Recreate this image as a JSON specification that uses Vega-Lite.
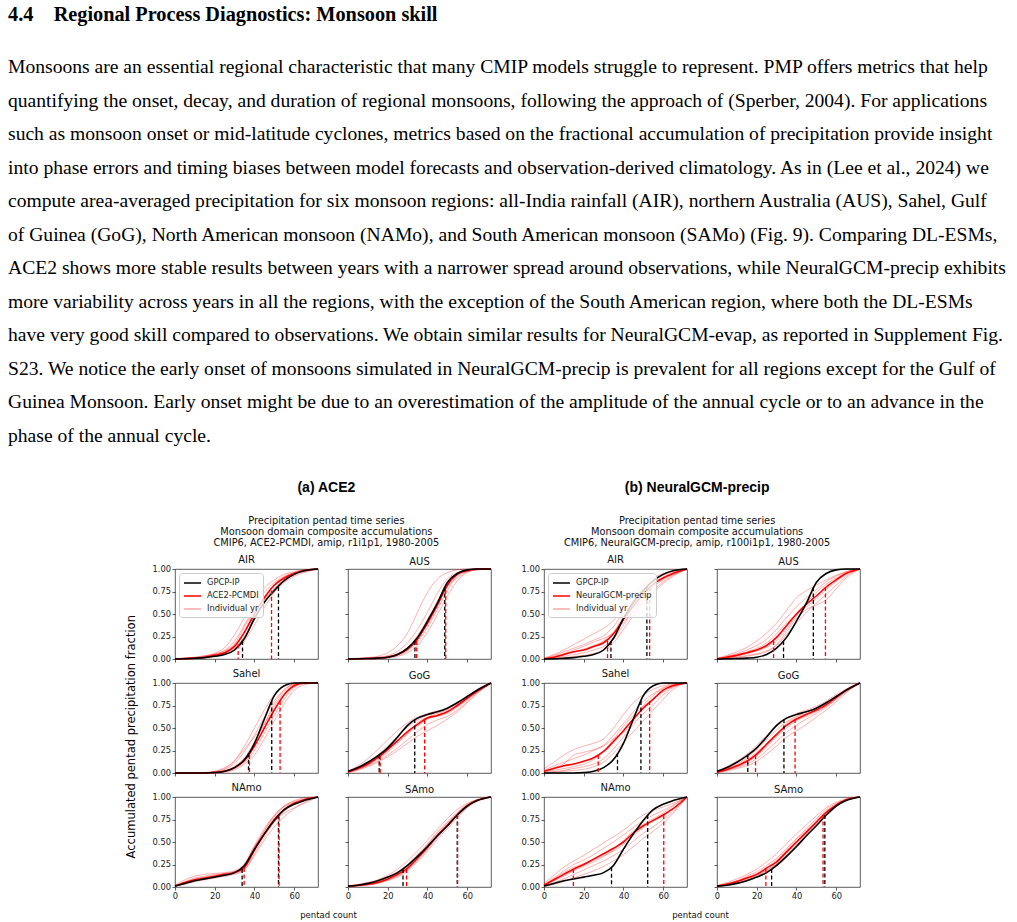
{
"$schema":"https://vega.github.io/schema/vega-lite/v6.json",
"background":"white",
"padding":{"left":8,"top":5,"right":5,"bottom":5},
"title":{"text":"4.4\u2003Regional Process Diagnostics: Monsoon skill","subtitle":[
"Monsoons are an essential regional characteristic that many CMIP models struggle to represent. PMP offers metrics that help",
"quantifying the onset, decay, and duration of regional monsoons, following the approach of (Sperber, 2004). For applications",
"such as monsoon onset or mid-latitude cyclones, metrics based on the fractional accumulation of precipitation provide insight",
"into phase errors and timing biases between model forecasts and observation-derived climatology. As in (Lee et al., 2024) we",
"compute area-averaged precipitation for six monsoon regions: all-India rainfall (AIR), northern Australia (AUS), Sahel, Gulf",
"of Guinea (GoG), North American monsoon (NAMo), and South American monsoon (SAMo) (Fig. 9). Comparing DL-ESMs,",
"ACE2 shows more stable results between years with a narrower spread around observations, while NeuralGCM-precip exhibits",
"more variability across years in all the regions, with the exception of the South American region, where both the DL-ESMs",
"have very good skill compared to observations. We obtain similar results for NeuralGCM-evap, as reported in Supplement Fig.",
"S23. We notice the early onset of monsoons simulated in NeuralGCM-precip is prevalent for all regions except for the Gulf of",
"Guinea Monsoon. Early onset might be due to an overestimation of the amplitude of the annual cycle or to an advance in the",
"phase of the annual cycle."],
"anchor":"start","frame":"group","dx":-167,"font":"Liberation Serif","fontSize":20.3,"fontWeight":"bold","color":"#000000",
"subtitleFont":"Liberation Serif","subtitleFontSize":19.6,"subtitleColor":"#000000","subtitleLineHeight":33.5,"subtitlePadding":32.5,"offset":36},
"spacing":25,
"resolve":{"scale":{"color":"independent"},"legend":{"color":"independent"}},
"config":{
"view":{"stroke":"#333333","strokeWidth":0.8},
"axis":{"grid":false,"domain":false,"tickSize":3,"tickColor":"#333333","tickWidth":0.8,"labelFont":"DejaVu Sans","labelFontSize":8.3,"labelColor":"#222222","labelPadding":1.5,"labelFlush":false,"labelOverlap":false,"titleFont":"DejaVu Sans","titleFontWeight":"normal","titleColor":"#000000"},
"title":{"font":"DejaVu Sans","fontSize":10,"fontWeight":"normal","color":"#111111","offset":-1,"frame":"group","anchor":"middle"},
"line":{"interpolate":"monotone"}
},
"datasets":{
"c":[
{"p":"a","r":"AIR","x":0,"o":0,"m":0,"y1":0.003,"y2":0.002,"y3":0.001,"y4":0,"y5":0,"y6":0.002},
{"p":"a","r":"AIR","x":5,"o":0.003,"m":0.004,"y1":0.009,"y2":0.006,"y3":0.006,"y4":0.003,"y5":0.002,"y6":0.01},
{"p":"a","r":"AIR","x":10,"o":0.008,"m":0.01,"y1":0.018,"y2":0.014,"y3":0.012,"y4":0.008,"y5":0.006,"y6":0.02},
{"p":"a","r":"AIR","x":15,"o":0.015,"m":0.02,"y1":0.036,"y2":0.028,"y3":0.025,"y4":0.017,"y5":0.014,"y6":0.035},
{"p":"a","r":"AIR","x":20,"o":0.03,"m":0.04,"y1":0.064,"y2":0.052,"y3":0.05,"y4":0.034,"y5":0.028,"y6":0.055},
{"p":"a","r":"AIR","x":25,"o":0.05,"m":0.07,"y1":0.126,"y2":0.098,"y3":0.08,"y4":0.06,"y5":0.05,"y6":0.09},
{"p":"a","r":"AIR","x":30,"o":0.1,"m":0.14,"y1":0.27,"y2":0.2,"y3":0.16,"y4":0.12,"y5":0.1,"y6":0.17},
{"p":"a","r":"AIR","x":35,"o":0.23,"m":0.3,"y1":0.46,"y2":0.38,"y3":0.31,"y4":0.25,"y5":0.2,"y6":0.36},
{"p":"a","r":"AIR","x":40,"o":0.45,"m":0.5,"y1":0.64,"y2":0.57,"y3":0.53,"y4":0.44,"y5":0.38,"y6":0.54},
{"p":"a","r":"AIR","x":45,"o":0.63,"m":0.68,"y1":0.79,"y2":0.74,"y3":0.69,"y4":0.63,"y5":0.57,"y6":0.66},
{"p":"a","r":"AIR","x":50,"o":0.76,"m":0.82,"y1":0.88,"y2":0.85,"y3":0.83,"y4":0.78,"y5":0.74,"y6":0.78},
{"p":"a","r":"AIR","x":55,"o":0.87,"m":0.9,"y1":0.94,"y2":0.92,"y3":0.91,"y4":0.88,"y5":0.85,"y6":0.88},
{"p":"a","r":"AIR","x":60,"o":0.94,"m":0.95,"y1":0.97,"y2":0.96,"y3":0.96,"y4":0.94,"y5":0.92,"y6":0.95},
{"p":"a","r":"AIR","x":65,"o":0.98,"m":0.98,"y1":0.99,"y2":0.99,"y3":0.98,"y4":0.97,"y5":0.96,"y6":0.985},
{"p":"a","r":"AIR","x":72,"o":1,"m":1,"y1":1,"y2":1,"y3":1,"y4":1,"y5":1,"y6":1},
{"p":"a","r":"AUS","x":0,"o":0,"m":0,"y1":0.004,"y2":0.001,"y3":0,"y4":0,"y5":0,"y6":0},
{"p":"a","r":"AUS","x":5,"o":0.002,"m":0.002,"y1":0.008,"y2":0.004,"y3":0.003,"y4":0.001,"y5":0.001,"y6":0.003},
{"p":"a","r":"AUS","x":10,"o":0.005,"m":0.005,"y1":0.016,"y2":0.008,"y3":0.006,"y4":0.004,"y5":0.003,"y6":0.01},
{"p":"a","r":"AUS","x":15,"o":0.01,"m":0.01,"y1":0.03,"y2":0.016,"y3":0.012,"y4":0.008,"y5":0.007,"y6":0.02},
{"p":"a","r":"AUS","x":20,"o":0.02,"m":0.02,"y1":0.07,"y2":0.038,"y3":0.026,"y4":0.015,"y5":0.012,"y6":0.03},
{"p":"a","r":"AUS","x":25,"o":0.05,"m":0.05,"y1":0.15,"y2":0.086,"y3":0.06,"y4":0.04,"y5":0.03,"y6":0.06},
{"p":"a","r":"AUS","x":30,"o":0.12,"m":0.11,"y1":0.29,"y2":0.18,"y3":0.13,"y4":0.09,"y5":0.07,"y6":0.1},
{"p":"a","r":"AUS","x":35,"o":0.24,"m":0.22,"y1":0.52,"y2":0.33,"y3":0.26,"y4":0.19,"y5":0.15,"y6":0.24},
{"p":"a","r":"AUS","x":40,"o":0.42,"m":0.4,"y1":0.74,"y2":0.52,"y3":0.44,"y4":0.35,"y5":0.3,"y6":0.38},
{"p":"a","r":"AUS","x":45,"o":0.62,"m":0.6,"y1":0.89,"y2":0.73,"y3":0.64,"y4":0.55,"y5":0.49,"y6":0.58},
{"p":"a","r":"AUS","x":50,"o":0.85,"m":0.82,"y1":0.96,"y2":0.89,"y3":0.84,"y4":0.76,"y5":0.7,"y6":0.8},
{"p":"a","r":"AUS","x":55,"o":0.95,"m":0.94,"y1":0.99,"y2":0.96,"y3":0.95,"y4":0.92,"y5":0.87,"y6":0.9},
{"p":"a","r":"AUS","x":60,"o":0.99,"m":0.98,"y1":1,"y2":0.99,"y3":0.985,"y4":0.97,"y5":0.96,"y6":0.97},
{"p":"a","r":"AUS","x":65,"o":1,"m":1,"y1":1,"y2":1,"y3":1,"y4":0.99,"y5":0.99,"y6":0.995},
{"p":"a","r":"AUS","x":72,"o":1,"m":1,"y1":1,"y2":1,"y3":1,"y4":1,"y5":1,"y6":1},
{"p":"a","r":"Sahel","x":0,"o":0,"m":0,"y1":0,"y2":0,"y3":0,"y4":0,"y5":0,"y6":0},
{"p":"a","r":"Sahel","x":5,"o":0,"m":0,"y1":0,"y2":0,"y3":0,"y4":0,"y5":0,"y6":0},
{"p":"a","r":"Sahel","x":10,"o":0,"m":0,"y1":0.001,"y2":0.001,"y3":0,"y4":0,"y5":0,"y6":0},
{"p":"a","r":"Sahel","x":15,"o":0,"m":0.001,"y1":0.005,"y2":0.003,"y3":0.002,"y4":0.001,"y5":0,"y6":0.004},
{"p":"a","r":"Sahel","x":20,"o":0.005,"m":0.005,"y1":0.02,"y2":0.011,"y3":0.008,"y4":0.003,"y5":0.002,"y6":0.015},
{"p":"a","r":"Sahel","x":25,"o":0.02,"m":0.02,"y1":0.06,"y2":0.04,"y3":0.028,"y4":0.014,"y5":0.01,"y6":0.05},
{"p":"a","r":"Sahel","x":30,"o":0.06,"m":0.06,"y1":0.14,"y2":0.11,"y3":0.075,"y4":0.048,"y5":0.036,"y6":0.13},
{"p":"a","r":"Sahel","x":35,"o":0.15,"m":0.14,"y1":0.3,"y2":0.24,"y3":0.17,"y4":0.12,"y5":0.1,"y6":0.27},
{"p":"a","r":"Sahel","x":40,"o":0.33,"m":0.3,"y1":0.5,"y2":0.42,"y3":0.34,"y4":0.25,"y5":0.2,"y6":0.4},
{"p":"a","r":"Sahel","x":45,"o":0.6,"m":0.5,"y1":0.7,"y2":0.62,"y3":0.54,"y4":0.44,"y5":0.38,"y6":0.55},
{"p":"a","r":"Sahel","x":50,"o":0.86,"m":0.7,"y1":0.87,"y2":0.8,"y3":0.74,"y4":0.64,"y5":0.58,"y6":0.77},
{"p":"a","r":"Sahel","x":55,"o":0.97,"m":0.87,"y1":0.97,"y2":0.93,"y3":0.9,"y4":0.82,"y5":0.77,"y6":0.92},
{"p":"a","r":"Sahel","x":60,"o":1,"m":0.97,"y1":1,"y2":0.99,"y3":0.98,"y4":0.95,"y5":0.92,"y6":0.99},
{"p":"a","r":"Sahel","x":65,"o":1,"m":1,"y1":1,"y2":1,"y3":1,"y4":0.99,"y5":0.98,"y6":1},
{"p":"a","r":"Sahel","x":72,"o":1,"m":1,"y1":1,"y2":1,"y3":1,"y4":1,"y5":1,"y6":1},
{"p":"a","r":"GoG","x":0,"o":0.02,"m":0.01,"y1":0.02,"y2":0.015,"y3":0.01,"y4":0.01,"y5":0.005,"y6":0.01},
{"p":"a","r":"GoG","x":5,"o":0.06,"m":0.05,"y1":0.08,"y2":0.06,"y3":0.04,"y4":0.04,"y5":0.03,"y6":0.05},
{"p":"a","r":"GoG","x":10,"o":0.12,"m":0.1,"y1":0.16,"y2":0.12,"y3":0.09,"y4":0.08,"y5":0.07,"y6":0.11},
{"p":"a","r":"GoG","x":15,"o":0.19,"m":0.17,"y1":0.26,"y2":0.2,"y3":0.15,"y4":0.13,"y5":0.12,"y6":0.18},
{"p":"a","r":"GoG","x":20,"o":0.28,"m":0.26,"y1":0.37,"y2":0.3,"y3":0.23,"y4":0.2,"y5":0.18,"y6":0.27},
{"p":"a","r":"GoG","x":25,"o":0.4,"m":0.36,"y1":0.47,"y2":0.41,"y3":0.33,"y4":0.28,"y5":0.25,"y6":0.35},
{"p":"a","r":"GoG","x":30,"o":0.53,"m":0.46,"y1":0.56,"y2":0.51,"y3":0.43,"y4":0.37,"y5":0.33,"y6":0.44},
{"p":"a","r":"GoG","x":35,"o":0.61,"m":0.54,"y1":0.62,"y2":0.59,"y3":0.52,"y4":0.46,"y5":0.41,"y6":0.56},
{"p":"a","r":"GoG","x":40,"o":0.65,"m":0.61,"y1":0.66,"y2":0.64,"y3":0.6,"y4":0.54,"y5":0.47,"y6":0.62},
{"p":"a","r":"GoG","x":45,"o":0.68,"m":0.64,"y1":0.69,"y2":0.67,"y3":0.63,"y4":0.59,"y5":0.53,"y6":0.66},
{"p":"a","r":"GoG","x":50,"o":0.72,"m":0.68,"y1":0.72,"y2":0.71,"y3":0.66,"y4":0.63,"y5":0.6,"y6":0.7},
{"p":"a","r":"GoG","x":55,"o":0.78,"m":0.75,"y1":0.78,"y2":0.77,"y3":0.73,"y4":0.7,"y5":0.68,"y6":0.76},
{"p":"a","r":"GoG","x":60,"o":0.85,"m":0.83,"y1":0.85,"y2":0.85,"y3":0.81,"y4":0.79,"y5":0.78,"y6":0.83},
{"p":"a","r":"GoG","x":65,"o":0.92,"m":0.91,"y1":0.92,"y2":0.93,"y3":0.9,"y4":0.89,"y5":0.88,"y6":0.9},
{"p":"a","r":"GoG","x":72,"o":1,"m":1,"y1":1,"y2":1,"y3":1,"y4":1,"y5":1,"y6":1},
{"p":"a","r":"NAmo","x":0,"o":0.01,"m":0.01,"y1":0.02,"y2":0.015,"y3":0.01,"y4":0.01,"y5":0.005,"y6":0.01},
{"p":"a","r":"NAmo","x":5,"o":0.04,"m":0.05,"y1":0.08,"y2":0.06,"y3":0.04,"y4":0.03,"y5":0.04,"y6":0.05},
{"p":"a","r":"NAmo","x":10,"o":0.07,"m":0.08,"y1":0.12,"y2":0.1,"y3":0.07,"y4":0.06,"y5":0.07,"y6":0.09},
{"p":"a","r":"NAmo","x":15,"o":0.09,"m":0.1,"y1":0.14,"y2":0.12,"y3":0.09,"y4":0.08,"y5":0.09,"y6":0.11},
{"p":"a","r":"NAmo","x":20,"o":0.11,"m":0.12,"y1":0.15,"y2":0.14,"y3":0.11,"y4":0.1,"y5":0.11,"y6":0.13},
{"p":"a","r":"NAmo","x":25,"o":0.13,"m":0.14,"y1":0.16,"y2":0.15,"y3":0.13,"y4":0.12,"y5":0.13,"y6":0.15},
{"p":"a","r":"NAmo","x":30,"o":0.16,"m":0.16,"y1":0.18,"y2":0.17,"y3":0.15,"y4":0.14,"y5":0.16,"y6":0.17},
{"p":"a","r":"NAmo","x":35,"o":0.24,"m":0.22,"y1":0.26,"y2":0.24,"y3":0.2,"y4":0.19,"y5":0.25,"y6":0.22},
{"p":"a","r":"NAmo","x":40,"o":0.42,"m":0.41,"y1":0.46,"y2":0.44,"y3":0.37,"y4":0.35,"y5":0.45,"y6":0.43},
{"p":"a","r":"NAmo","x":45,"o":0.59,"m":0.59,"y1":0.65,"y2":0.62,"y3":0.56,"y4":0.52,"y5":0.6,"y6":0.63},
{"p":"a","r":"NAmo","x":50,"o":0.74,"m":0.75,"y1":0.8,"y2":0.78,"y3":0.72,"y4":0.67,"y5":0.73,"y6":0.79},
{"p":"a","r":"NAmo","x":55,"o":0.86,"m":0.86,"y1":0.9,"y2":0.89,"y3":0.84,"y4":0.78,"y5":0.82,"y6":0.9},
{"p":"a","r":"NAmo","x":60,"o":0.92,"m":0.93,"y1":0.95,"y2":0.94,"y3":0.92,"y4":0.87,"y5":0.88,"y6":0.96},
{"p":"a","r":"NAmo","x":65,"o":0.96,"m":0.97,"y1":0.98,"y2":0.97,"y3":0.97,"y4":0.94,"y5":0.93,"y6":0.99},
{"p":"a","r":"NAmo","x":72,"o":1,"m":1,"y1":1,"y2":1,"y3":1,"y4":1,"y5":1,"y6":1},
{"p":"a","r":"SAmo","x":0,"o":0.01,"m":0.01,"y1":0.01,"y2":0.01,"y3":0.005,"y4":0.005,"y5":0.01,"y6":0.005},
{"p":"a","r":"SAmo","x":5,"o":0.02,"m":0.02,"y1":0.03,"y2":0.02,"y3":0.015,"y4":0.01,"y5":0.02,"y6":0.015},
{"p":"a","r":"SAmo","x":10,"o":0.04,"m":0.03,"y1":0.05,"y2":0.04,"y3":0.03,"y4":0.02,"y5":0.03,"y6":0.025},
{"p":"a","r":"SAmo","x":15,"o":0.07,"m":0.05,"y1":0.08,"y2":0.06,"y3":0.05,"y4":0.04,"y5":0.05,"y6":0.045},
{"p":"a","r":"SAmo","x":20,"o":0.11,"m":0.09,"y1":0.13,"y2":0.11,"y3":0.08,"y4":0.07,"y5":0.09,"y6":0.08},
{"p":"a","r":"SAmo","x":25,"o":0.16,"m":0.14,"y1":0.2,"y2":0.17,"y3":0.13,"y4":0.11,"y5":0.15,"y6":0.12},
{"p":"a","r":"SAmo","x":30,"o":0.24,"m":0.21,"y1":0.29,"y2":0.25,"y3":0.2,"y4":0.18,"y5":0.23,"y6":0.19},
{"p":"a","r":"SAmo","x":35,"o":0.34,"m":0.32,"y1":0.4,"y2":0.36,"y3":0.3,"y4":0.28,"y5":0.34,"y6":0.31},
{"p":"a","r":"SAmo","x":40,"o":0.45,"m":0.44,"y1":0.52,"y2":0.48,"y3":0.42,"y4":0.4,"y5":0.47,"y6":0.45},
{"p":"a","r":"SAmo","x":45,"o":0.57,"m":0.57,"y1":0.64,"y2":0.61,"y3":0.55,"y4":0.53,"y5":0.6,"y6":0.58},
{"p":"a","r":"SAmo","x":50,"o":0.68,"m":0.68,"y1":0.76,"y2":0.72,"y3":0.67,"y4":0.65,"y5":0.71,"y6":0.7},
{"p":"a","r":"SAmo","x":55,"o":0.8,"m":0.8,"y1":0.86,"y2":0.83,"y3":0.79,"y4":0.77,"y5":0.81,"y6":0.82},
{"p":"a","r":"SAmo","x":60,"o":0.9,"m":0.9,"y1":0.93,"y2":0.92,"y3":0.89,"y4":0.88,"y5":0.9,"y6":0.91},
{"p":"a","r":"SAmo","x":65,"o":0.96,"m":0.96,"y1":0.97,"y2":0.97,"y3":0.96,"y4":0.95,"y5":0.96,"y6":0.97},
{"p":"a","r":"SAmo","x":72,"o":1,"m":1,"y1":1,"y2":1,"y3":1,"y4":1,"y5":1,"y6":1},
{"p":"b","r":"AIR","x":0,"o":0,"m":0,"y1":0.01,"y2":0.005,"y3":0.003,"y4":0,"y5":0,"y6":0.005},
{"p":"b","r":"AIR","x":5,"o":0.003,"m":0.02,"y1":0.05,"y2":0.04,"y3":0.02,"y4":0.01,"y5":0.005,"y6":0.03},
{"p":"b","r":"AIR","x":10,"o":0.008,"m":0.05,"y1":0.1,"y2":0.08,"y3":0.05,"y4":0.03,"y5":0.015,"y6":0.06},
{"p":"b","r":"AIR","x":15,"o":0.015,"m":0.08,"y1":0.16,"y2":0.12,"y3":0.08,"y4":0.05,"y5":0.03,"y6":0.1},
{"p":"b","r":"AIR","x":20,"o":0.03,"m":0.1,"y1":0.22,"y2":0.16,"y3":0.11,"y4":0.07,"y5":0.04,"y6":0.14},
{"p":"b","r":"AIR","x":25,"o":0.05,"m":0.14,"y1":0.28,"y2":0.21,"y3":0.15,"y4":0.1,"y5":0.06,"y6":0.19},
{"p":"b","r":"AIR","x":30,"o":0.1,"m":0.18,"y1":0.34,"y2":0.26,"y3":0.2,"y4":0.14,"y5":0.1,"y6":0.23},
{"p":"b","r":"AIR","x":35,"o":0.23,"m":0.28,"y1":0.43,"y2":0.36,"y3":0.3,"y4":0.22,"y5":0.18,"y6":0.29},
{"p":"b","r":"AIR","x":40,"o":0.45,"m":0.44,"y1":0.58,"y2":0.52,"y3":0.47,"y4":0.38,"y5":0.33,"y6":0.41},
{"p":"b","r":"AIR","x":45,"o":0.63,"m":0.59,"y1":0.72,"y2":0.66,"y3":0.62,"y4":0.54,"y5":0.48,"y6":0.52},
{"p":"b","r":"AIR","x":50,"o":0.76,"m":0.72,"y1":0.83,"y2":0.78,"y3":0.75,"y4":0.68,"y5":0.62,"y6":0.64},
{"p":"b","r":"AIR","x":55,"o":0.87,"m":0.83,"y1":0.9,"y2":0.87,"y3":0.85,"y4":0.8,"y5":0.74,"y6":0.76},
{"p":"b","r":"AIR","x":60,"o":0.94,"m":0.9,"y1":0.95,"y2":0.93,"y3":0.91,"y4":0.88,"y5":0.84,"y6":0.86},
{"p":"b","r":"AIR","x":65,"o":0.98,"m":0.95,"y1":0.98,"y2":0.97,"y3":0.96,"y4":0.94,"y5":0.92,"y6":0.93},
{"p":"b","r":"AIR","x":72,"o":1,"m":1,"y1":1,"y2":1,"y3":1,"y4":1,"y5":1,"y6":1},
{"p":"b","r":"AUS","x":0,"o":0,"m":0,"y1":0.01,"y2":0.005,"y3":0,"y4":0,"y5":0,"y6":0.005},
{"p":"b","r":"AUS","x":5,"o":0.002,"m":0.02,"y1":0.04,"y2":0.03,"y3":0.015,"y4":0.01,"y5":0.005,"y6":0.025},
{"p":"b","r":"AUS","x":10,"o":0.005,"m":0.04,"y1":0.08,"y2":0.06,"y3":0.035,"y4":0.02,"y5":0.015,"y6":0.05},
{"p":"b","r":"AUS","x":15,"o":0.01,"m":0.07,"y1":0.13,"y2":0.1,"y3":0.06,"y4":0.04,"y5":0.03,"y6":0.08},
{"p":"b","r":"AUS","x":20,"o":0.02,"m":0.1,"y1":0.2,"y2":0.15,"y3":0.09,"y4":0.06,"y5":0.05,"y6":0.12},
{"p":"b","r":"AUS","x":25,"o":0.05,"m":0.15,"y1":0.29,"y2":0.22,"y3":0.13,"y4":0.09,"y5":0.08,"y6":0.18},
{"p":"b","r":"AUS","x":30,"o":0.12,"m":0.24,"y1":0.4,"y2":0.33,"y3":0.2,"y4":0.15,"y5":0.16,"y6":0.28},
{"p":"b","r":"AUS","x":35,"o":0.24,"m":0.37,"y1":0.54,"y2":0.46,"y3":0.33,"y4":0.27,"y5":0.3,"y6":0.4},
{"p":"b","r":"AUS","x":40,"o":0.42,"m":0.5,"y1":0.68,"y2":0.58,"y3":0.48,"y4":0.4,"y5":0.45,"y6":0.5},
{"p":"b","r":"AUS","x":45,"o":0.62,"m":0.61,"y1":0.76,"y2":0.68,"y3":0.62,"y4":0.52,"y5":0.55,"y6":0.58},
{"p":"b","r":"AUS","x":50,"o":0.85,"m":0.7,"y1":0.82,"y2":0.77,"y3":0.74,"y4":0.62,"y5":0.6,"y6":0.67},
{"p":"b","r":"AUS","x":55,"o":0.95,"m":0.8,"y1":0.88,"y2":0.86,"y3":0.83,"y4":0.72,"y5":0.66,"y6":0.77},
{"p":"b","r":"AUS","x":60,"o":0.99,"m":0.88,"y1":0.93,"y2":0.92,"y3":0.9,"y4":0.82,"y5":0.78,"y6":0.86},
{"p":"b","r":"AUS","x":65,"o":1,"m":0.95,"y1":0.97,"y2":0.97,"y3":0.96,"y4":0.92,"y5":0.9,"y6":0.94},
{"p":"b","r":"AUS","x":72,"o":1,"m":1,"y1":1,"y2":1,"y3":1,"y4":1,"y5":1,"y6":1},
{"p":"b","r":"Sahel","x":0,"o":0,"m":0.02,"y1":0.05,"y2":0.03,"y3":0.01,"y4":0.005,"y5":0,"y6":0.02},
{"p":"b","r":"Sahel","x":5,"o":0,"m":0.05,"y1":0.12,"y2":0.08,"y3":0.03,"y4":0.015,"y5":0.01,"y6":0.06},
{"p":"b","r":"Sahel","x":10,"o":0,"m":0.08,"y1":0.2,"y2":0.12,"y3":0.05,"y4":0.03,"y5":0.02,"y6":0.1},
{"p":"b","r":"Sahel","x":15,"o":0,"m":0.1,"y1":0.26,"y2":0.16,"y3":0.07,"y4":0.05,"y5":0.03,"y6":0.2},
{"p":"b","r":"Sahel","x":20,"o":0.005,"m":0.13,"y1":0.3,"y2":0.2,"y3":0.1,"y4":0.07,"y5":0.04,"y6":0.23},
{"p":"b","r":"Sahel","x":25,"o":0.02,"m":0.17,"y1":0.33,"y2":0.25,"y3":0.15,"y4":0.1,"y5":0.07,"y6":0.26},
{"p":"b","r":"Sahel","x":30,"o":0.06,"m":0.24,"y1":0.38,"y2":0.31,"y3":0.24,"y4":0.16,"y5":0.12,"y6":0.3},
{"p":"b","r":"Sahel","x":35,"o":0.15,"m":0.35,"y1":0.5,"y2":0.42,"y3":0.37,"y4":0.27,"y5":0.22,"y6":0.38},
{"p":"b","r":"Sahel","x":40,"o":0.33,"m":0.47,"y1":0.65,"y2":0.55,"y3":0.52,"y4":0.4,"y5":0.34,"y6":0.45},
{"p":"b","r":"Sahel","x":45,"o":0.6,"m":0.6,"y1":0.78,"y2":0.68,"y3":0.64,"y4":0.54,"y5":0.46,"y6":0.57},
{"p":"b","r":"Sahel","x":50,"o":0.86,"m":0.72,"y1":0.87,"y2":0.8,"y3":0.74,"y4":0.66,"y5":0.58,"y6":0.75},
{"p":"b","r":"Sahel","x":55,"o":0.97,"m":0.82,"y1":0.93,"y2":0.88,"y3":0.82,"y4":0.76,"y5":0.7,"y6":0.86},
{"p":"b","r":"Sahel","x":60,"o":1,"m":0.92,"y1":0.97,"y2":0.95,"y3":0.9,"y4":0.87,"y5":0.82,"y6":0.94},
{"p":"b","r":"Sahel","x":65,"o":1,"m":0.97,"y1":0.99,"y2":0.98,"y3":0.96,"y4":0.95,"y5":0.93,"y6":0.98},
{"p":"b","r":"Sahel","x":72,"o":1,"m":1,"y1":1,"y2":1,"y3":1,"y4":1,"y5":1,"y6":1},
{"p":"b","r":"GoG","x":0,"o":0.02,"m":0.01,"y1":0.02,"y2":0.015,"y3":0.01,"y4":0.005,"y5":0.005,"y6":0.01},
{"p":"b","r":"GoG","x":5,"o":0.06,"m":0.04,"y1":0.07,"y2":0.05,"y3":0.035,"y4":0.03,"y5":0.02,"y6":0.04},
{"p":"b","r":"GoG","x":10,"o":0.12,"m":0.08,"y1":0.13,"y2":0.1,"y3":0.07,"y4":0.06,"y5":0.05,"y6":0.09},
{"p":"b","r":"GoG","x":15,"o":0.19,"m":0.13,"y1":0.21,"y2":0.17,"y3":0.12,"y4":0.1,"y5":0.08,"y6":0.15},
{"p":"b","r":"GoG","x":20,"o":0.28,"m":0.21,"y1":0.31,"y2":0.26,"y3":0.19,"y4":0.16,"y5":0.13,"y6":0.23},
{"p":"b","r":"GoG","x":25,"o":0.4,"m":0.32,"y1":0.42,"y2":0.37,"y3":0.29,"y4":0.25,"y5":0.21,"y6":0.33},
{"p":"b","r":"GoG","x":30,"o":0.53,"m":0.43,"y1":0.52,"y2":0.48,"y3":0.4,"y4":0.35,"y5":0.3,"y6":0.42},
{"p":"b","r":"GoG","x":35,"o":0.61,"m":0.53,"y1":0.6,"y2":0.57,"y3":0.5,"y4":0.45,"y5":0.4,"y6":0.55},
{"p":"b","r":"GoG","x":40,"o":0.65,"m":0.6,"y1":0.66,"y2":0.63,"y3":0.58,"y4":0.53,"y5":0.47,"y6":0.62},
{"p":"b","r":"GoG","x":45,"o":0.68,"m":0.65,"y1":0.7,"y2":0.68,"y3":0.63,"y4":0.6,"y5":0.54,"y6":0.66},
{"p":"b","r":"GoG","x":50,"o":0.72,"m":0.7,"y1":0.74,"y2":0.72,"y3":0.68,"y4":0.66,"y5":0.62,"y6":0.69},
{"p":"b","r":"GoG","x":55,"o":0.78,"m":0.76,"y1":0.8,"y2":0.78,"y3":0.75,"y4":0.73,"y5":0.7,"y6":0.74},
{"p":"b","r":"GoG","x":60,"o":0.85,"m":0.84,"y1":0.87,"y2":0.85,"y3":0.83,"y4":0.82,"y5":0.79,"y6":0.82},
{"p":"b","r":"GoG","x":65,"o":0.92,"m":0.92,"y1":0.93,"y2":0.93,"y3":0.91,"y4":0.91,"y5":0.89,"y6":0.9},
{"p":"b","r":"GoG","x":72,"o":1,"m":1,"y1":1,"y2":1,"y3":1,"y4":1,"y5":1,"y6":1},
{"p":"b","r":"NAmo","x":0,"o":0.01,"m":0.02,"y1":0.04,"y2":0.03,"y3":0.02,"y4":0.01,"y5":0.005,"y6":0.02},
{"p":"b","r":"NAmo","x":5,"o":0.04,"m":0.08,"y1":0.13,"y2":0.1,"y3":0.07,"y4":0.05,"y5":0.03,"y6":0.09},
{"p":"b","r":"NAmo","x":10,"o":0.07,"m":0.14,"y1":0.22,"y2":0.18,"y3":0.12,"y4":0.09,"y5":0.06,"y6":0.16},
{"p":"b","r":"NAmo","x":15,"o":0.09,"m":0.2,"y1":0.29,"y2":0.25,"y3":0.18,"y4":0.14,"y5":0.1,"y6":0.22},
{"p":"b","r":"NAmo","x":20,"o":0.11,"m":0.25,"y1":0.35,"y2":0.3,"y3":0.23,"y4":0.19,"y5":0.14,"y6":0.26},
{"p":"b","r":"NAmo","x":25,"o":0.13,"m":0.31,"y1":0.42,"y2":0.36,"y3":0.28,"y4":0.24,"y5":0.18,"y6":0.3},
{"p":"b","r":"NAmo","x":30,"o":0.16,"m":0.37,"y1":0.49,"y2":0.43,"y3":0.34,"y4":0.29,"y5":0.23,"y6":0.35},
{"p":"b","r":"NAmo","x":35,"o":0.24,"m":0.43,"y1":0.56,"y2":0.5,"y3":0.4,"y4":0.35,"y5":0.29,"y6":0.41},
{"p":"b","r":"NAmo","x":40,"o":0.42,"m":0.5,"y1":0.63,"y2":0.58,"y3":0.47,"y4":0.42,"y5":0.36,"y6":0.52},
{"p":"b","r":"NAmo","x":45,"o":0.59,"m":0.6,"y1":0.72,"y2":0.66,"y3":0.57,"y4":0.51,"y5":0.45,"y6":0.62},
{"p":"b","r":"NAmo","x":50,"o":0.74,"m":0.68,"y1":0.8,"y2":0.74,"y3":0.66,"y4":0.6,"y5":0.54,"y6":0.7},
{"p":"b","r":"NAmo","x":55,"o":0.86,"m":0.74,"y1":0.85,"y2":0.8,"y3":0.73,"y4":0.67,"y5":0.62,"y6":0.76},
{"p":"b","r":"NAmo","x":60,"o":0.92,"m":0.8,"y1":0.89,"y2":0.85,"y3":0.79,"y4":0.75,"y5":0.71,"y6":0.82},
{"p":"b","r":"NAmo","x":65,"o":0.96,"m":0.87,"y1":0.93,"y2":0.91,"y3":0.87,"y4":0.84,"y5":0.82,"y6":0.9},
{"p":"b","r":"NAmo","x":72,"o":1,"m":1,"y1":1,"y2":1,"y3":1,"y4":1,"y5":1,"y6":1},
{"p":"b","r":"SAmo","x":0,"o":0.01,"m":0.01,"y1":0.015,"y2":0.01,"y3":0.01,"y4":0.005,"y5":0.005,"y6":0.01},
{"p":"b","r":"SAmo","x":5,"o":0.02,"m":0.03,"y1":0.05,"y2":0.04,"y3":0.03,"y4":0.02,"y5":0.02,"y6":0.035},
{"p":"b","r":"SAmo","x":10,"o":0.04,"m":0.06,"y1":0.09,"y2":0.07,"y3":0.05,"y4":0.04,"y5":0.04,"y6":0.065},
{"p":"b","r":"SAmo","x":15,"o":0.07,"m":0.1,"y1":0.14,"y2":0.12,"y3":0.09,"y4":0.07,"y5":0.08,"y6":0.11},
{"p":"b","r":"SAmo","x":20,"o":0.11,"m":0.14,"y1":0.2,"y2":0.17,"y3":0.13,"y4":0.11,"y5":0.12,"y6":0.15},
{"p":"b","r":"SAmo","x":25,"o":0.16,"m":0.21,"y1":0.28,"y2":0.24,"y3":0.19,"y4":0.16,"y5":0.18,"y6":0.22},
{"p":"b","r":"SAmo","x":30,"o":0.24,"m":0.28,"y1":0.37,"y2":0.32,"y3":0.26,"y4":0.23,"y5":0.25,"y6":0.3},
{"p":"b","r":"SAmo","x":35,"o":0.34,"m":0.39,"y1":0.48,"y2":0.43,"y3":0.37,"y4":0.33,"y5":0.35,"y6":0.41},
{"p":"b","r":"SAmo","x":40,"o":0.45,"m":0.5,"y1":0.59,"y2":0.54,"y3":0.48,"y4":0.44,"y5":0.46,"y6":0.53},
{"p":"b","r":"SAmo","x":45,"o":0.57,"m":0.61,"y1":0.69,"y2":0.65,"y3":0.59,"y4":0.56,"y5":0.57,"y6":0.63},
{"p":"b","r":"SAmo","x":50,"o":0.68,"m":0.72,"y1":0.79,"y2":0.76,"y3":0.7,"y4":0.68,"y5":0.68,"y6":0.74},
{"p":"b","r":"SAmo","x":55,"o":0.8,"m":0.83,"y1":0.88,"y2":0.86,"y3":0.81,"y4":0.79,"y5":0.8,"y6":0.84},
{"p":"b","r":"SAmo","x":60,"o":0.9,"m":0.91,"y1":0.94,"y2":0.93,"y3":0.9,"y4":0.89,"y5":0.9,"y6":0.92},
{"p":"b","r":"SAmo","x":65,"o":0.96,"m":0.97,"y1":0.98,"y2":0.97,"y3":0.96,"y4":0.96,"y5":0.96,"y6":0.97},
{"p":"b","r":"SAmo","x":72,"o":1,"m":1,"y1":1,"y2":1,"y3":1,"y4":1,"y5":1,"y6":1}
],
"d":[
{"p":"a","r":"AIR","s":"o","x":34,"y":0.2},{"p":"a","r":"AIR","s":"o","x":52.1,"y":0.8},{"p":"a","r":"AIR","s":"m","x":31.8,"y":0.16},{"p":"a","r":"AIR","s":"m","x":48.6,"y":0.76},
{"p":"a","r":"AUS","s":"o","x":33.7,"y":0.2},{"p":"a","r":"AUS","s":"o","x":48.7,"y":0.8},{"p":"a","r":"AUS","s":"m","x":34.6,"y":0.2},{"p":"a","r":"AUS","s":"m","x":49.2,"y":0.77},
{"p":"a","r":"Sahel","s":"o","x":37,"y":0.22},{"p":"a","r":"Sahel","s":"o","x":48.7,"y":0.8},{"p":"a","r":"Sahel","s":"m","x":37.5,"y":0.2},{"p":"a","r":"Sahel","s":"m","x":52.9,"y":0.8},
{"p":"a","r":"GoG","s":"o","x":15.7,"y":0.2},{"p":"a","r":"GoG","s":"o","x":33.6,"y":0.6},{"p":"a","r":"GoG","s":"m","x":16.2,"y":0.19},{"p":"a","r":"GoG","s":"m","x":38.6,"y":0.59},
{"p":"a","r":"NAmo","s":"o","x":33.8,"y":0.2},{"p":"a","r":"NAmo","s":"o","x":52.1,"y":0.8},{"p":"a","r":"NAmo","s":"m","x":34.8,"y":0.21},{"p":"a","r":"NAmo","s":"m","x":52.4,"y":0.78},
{"p":"a","r":"SAmo","s":"o","x":27.7,"y":0.2},{"p":"a","r":"SAmo","s":"o","x":55,"y":0.8},{"p":"a","r":"SAmo","s":"m","x":29.5,"y":0.2},{"p":"a","r":"SAmo","s":"m","x":55.2,"y":0.8},
{"p":"b","r":"AIR","s":"o","x":33.7,"y":0.2},{"p":"b","r":"AIR","s":"o","x":51.8,"y":0.8},{"p":"b","r":"AIR","s":"m","x":32,"y":0.2},{"p":"b","r":"AIR","s":"m","x":53.2,"y":0.8},
{"p":"b","r":"AUS","s":"o","x":33.5,"y":0.2},{"p":"b","r":"AUS","s":"o","x":48.5,"y":0.8},{"p":"b","r":"AUS","s":"m","x":28.5,"y":0.2},{"p":"b","r":"AUS","s":"m","x":54.6,"y":0.8},
{"p":"b","r":"Sahel","s":"o","x":37,"y":0.22},{"p":"b","r":"Sahel","s":"o","x":48.8,"y":0.8},{"p":"b","r":"Sahel","s":"m","x":27.3,"y":0.2},{"p":"b","r":"Sahel","s":"m","x":53.2,"y":0.8},
{"p":"b","r":"GoG","s":"o","x":15.5,"y":0.2},{"p":"b","r":"GoG","s":"o","x":33.7,"y":0.6},{"p":"b","r":"GoG","s":"m","x":19.4,"y":0.2},{"p":"b","r":"GoG","s":"m","x":39.3,"y":0.6},
{"p":"b","r":"NAmo","s":"o","x":34,"y":0.22},{"p":"b","r":"NAmo","s":"o","x":52.2,"y":0.8},{"p":"b","r":"NAmo","s":"m","x":14.8,"y":0.2},{"p":"b","r":"NAmo","s":"m","x":60.3,"y":0.8},
{"p":"b","r":"SAmo","s":"o","x":27.5,"y":0.2},{"p":"b","r":"SAmo","s":"o","x":54.3,"y":0.8},{"p":"b","r":"SAmo","s":"m","x":24.6,"y":0.2},{"p":"b","r":"SAmo","s":"m","x":53.4,"y":0.8}
]
},
"hconcat":[
{"title":{"text":"(a) ACE2","subtitle":["Precipitation pentad time series","Monsoon domain composite accumulations","CMIP6, ACE2-PCMDI, amip, r1i1p1, 1980-2005"],"anchor":"middle","frame":"bounds","dx":16,"font":"Liberation Sans","fontSize":14,"fontWeight":"bold","color":"#000000","subtitleFont":"DejaVu Sans","subtitleFontSize":9.8,"subtitleColor":"#111111","subtitleLineHeight":11.3,"subtitlePadding":20.5,"offset":6.5},
"resolve":{"scale":{"color":"independent"},"legend":{"color":"independent"}},
"vconcat":[
{"title":{"text":"Accumulated pentad precipitation fraction","orient":"left","anchor":"middle","frame":"bounds","offset":14,"font":"DejaVu Sans","fontSize":11.5,"fontWeight":"normal","color":"#000000"},
"spacing":5,
"resolve":{"scale":{"color":"independent"},"legend":{"color":"independent"}},
"vconcat":[
{"bounds":"flush","spacing":30,"resolve":{"scale":{"color":"independent"},"legend":{"color":"independent"}},"hconcat":[
{"width":143,"height":90,"title":"AIR",
"encoding":{"x":{"field":"x","type":"quantitative","scale":{"domain":[0,72],"nice":false},"axis":{"values":[0,20,40,60],"labels":false},"title":null},
"y":{"field":"y","type":"quantitative","scale":{"domain":[0,1]},"axis":{"values":[0,0.25,0.5,0.75,1],"format":".2f","labels":true},"title":null},
"color":{"field":"s","type":"nominal","scale":{"domain":["o","m","y1","y2","y3","y4","y5","y6"],"range":["#000000","#ff0000","rgba(255,0,0,0.35)","rgba(255,0,0,0.35)","rgba(255,0,0,0.35)","rgba(255,0,0,0.35)","rgba(255,0,0,0.35)","rgba(255,0,0,0.35)"]},
"legend":{"orient":"top-left","offset":4,"title":null,"values":["o","m","y1"],"labelExpr":"datum.value==='o'?'GPCP-IP':datum.value==='m'?'ACE2-PCMDI':'Individual yr'","symbolType":"M-1,0H2.4","symbolSize":100,"symbolStrokeWidth":1.5,"labelOffset":12,"rowPadding":3,"padding":4,"fillColor":"rgba(255,255,255,0.8)","strokeColor":"#cccccc","cornerRadius":3,"labelFont":"DejaVu Sans","labelFontSize":8.3,"labelColor":"#222222"}}},
"layer":[
{"data":{"name":"c"},"transform":[{"filter":"datum.p==='a'&&datum.r==='AIR'"},{"fold":["y1","y2","y3","y4","y5","y6"],"as":["s","y"]}],"mark":{"type":"line","strokeWidth":0.9}},
{"data":{"name":"c"},"transform":[{"filter":"datum.p==='a'&&datum.r==='AIR'"},{"fold":["m"],"as":["s","y"]}],"mark":{"type":"line","strokeWidth":1.6}},
{"data":{"name":"c"},"transform":[{"filter":"datum.p==='a'&&datum.r==='AIR'"},{"fold":["o"],"as":["s","y"]}],"mark":{"type":"line","strokeWidth":1.6}},
{"data":{"name":"d"},"transform":[{"filter":"datum.p==='a'&&datum.r==='AIR'"}],"mark":{"type":"rule","strokeDash":[4,2.5],"strokeWidth":1.3},"encoding":{"y2":{"datum":0}}}]},
{"width":143,"height":90,"title":"AUS",
"encoding":{"x":{"field":"x","type":"quantitative","scale":{"domain":[0,72],"nice":false},"axis":{"values":[0,20,40,60],"labels":false},"title":null},
"y":{"field":"y","type":"quantitative","scale":{"domain":[0,1]},"axis":{"values":[0,0.25,0.5,0.75,1],"format":".2f","labels":false},"title":null},
"color":{"field":"s","type":"nominal","scale":{"domain":["o","m","y1","y2","y3","y4","y5","y6"],"range":["#000000","#ff0000","rgba(255,0,0,0.35)","rgba(255,0,0,0.35)","rgba(255,0,0,0.35)","rgba(255,0,0,0.35)","rgba(255,0,0,0.35)","rgba(255,0,0,0.35)"]},"legend":null}},
"layer":[
{"data":{"name":"c"},"transform":[{"filter":"datum.p==='a'&&datum.r==='AUS'"},{"fold":["y1","y2","y3","y4","y5","y6"],"as":["s","y"]}],"mark":{"type":"line","strokeWidth":0.9}},
{"data":{"name":"c"},"transform":[{"filter":"datum.p==='a'&&datum.r==='AUS'"},{"fold":["m"],"as":["s","y"]}],"mark":{"type":"line","strokeWidth":1.6}},
{"data":{"name":"c"},"transform":[{"filter":"datum.p==='a'&&datum.r==='AUS'"},{"fold":["o"],"as":["s","y"]}],"mark":{"type":"line","strokeWidth":1.6}},
{"data":{"name":"d"},"transform":[{"filter":"datum.p==='a'&&datum.r==='AUS'"}],"mark":{"type":"rule","strokeDash":[4,2.5],"strokeWidth":1.3},"encoding":{"y2":{"datum":0}}}]}
]},
{"bounds":"flush","spacing":30,"resolve":{"scale":{"color":"independent"},"legend":{"color":"independent"}},"hconcat":[
{"width":143,"height":90,"title":"Sahel",
"encoding":{"x":{"field":"x","type":"quantitative","scale":{"domain":[0,72],"nice":false},"axis":{"values":[0,20,40,60],"labels":false},"title":null},
"y":{"field":"y","type":"quantitative","scale":{"domain":[0,1]},"axis":{"values":[0,0.25,0.5,0.75,1],"format":".2f","labels":true},"title":null},
"color":{"field":"s","type":"nominal","scale":{"domain":["o","m","y1","y2","y3","y4","y5","y6"],"range":["#000000","#ff0000","rgba(255,0,0,0.35)","rgba(255,0,0,0.35)","rgba(255,0,0,0.35)","rgba(255,0,0,0.35)","rgba(255,0,0,0.35)","rgba(255,0,0,0.35)"]},"legend":null}},
"layer":[
{"data":{"name":"c"},"transform":[{"filter":"datum.p==='a'&&datum.r==='Sahel'"},{"fold":["y1","y2","y3","y4","y5","y6"],"as":["s","y"]}],"mark":{"type":"line","strokeWidth":0.9}},
{"data":{"name":"c"},"transform":[{"filter":"datum.p==='a'&&datum.r==='Sahel'"},{"fold":["m"],"as":["s","y"]}],"mark":{"type":"line","strokeWidth":1.6}},
{"data":{"name":"c"},"transform":[{"filter":"datum.p==='a'&&datum.r==='Sahel'"},{"fold":["o"],"as":["s","y"]}],"mark":{"type":"line","strokeWidth":1.6}},
{"data":{"name":"d"},"transform":[{"filter":"datum.p==='a'&&datum.r==='Sahel'"}],"mark":{"type":"rule","strokeDash":[4,2.5],"strokeWidth":1.3},"encoding":{"y2":{"datum":0}}}]},
{"width":143,"height":90,"title":"GoG",
"encoding":{"x":{"field":"x","type":"quantitative","scale":{"domain":[0,72],"nice":false},"axis":{"values":[0,20,40,60],"labels":false},"title":null},
"y":{"field":"y","type":"quantitative","scale":{"domain":[0,1]},"axis":{"values":[0,0.25,0.5,0.75,1],"format":".2f","labels":false},"title":null},
"color":{"field":"s","type":"nominal","scale":{"domain":["o","m","y1","y2","y3","y4","y5","y6"],"range":["#000000","#ff0000","rgba(255,0,0,0.35)","rgba(255,0,0,0.35)","rgba(255,0,0,0.35)","rgba(255,0,0,0.35)","rgba(255,0,0,0.35)","rgba(255,0,0,0.35)"]},"legend":null}},
"layer":[
{"data":{"name":"c"},"transform":[{"filter":"datum.p==='a'&&datum.r==='GoG'"},{"fold":["y1","y2","y3","y4","y5","y6"],"as":["s","y"]}],"mark":{"type":"line","strokeWidth":0.9}},
{"data":{"name":"c"},"transform":[{"filter":"datum.p==='a'&&datum.r==='GoG'"},{"fold":["m"],"as":["s","y"]}],"mark":{"type":"line","strokeWidth":1.6}},
{"data":{"name":"c"},"transform":[{"filter":"datum.p==='a'&&datum.r==='GoG'"},{"fold":["o"],"as":["s","y"]}],"mark":{"type":"line","strokeWidth":1.6}},
{"data":{"name":"d"},"transform":[{"filter":"datum.p==='a'&&datum.r==='GoG'"}],"mark":{"type":"rule","strokeDash":[4,2.5],"strokeWidth":1.3},"encoding":{"y2":{"datum":0}}}]}
]},
{"bounds":"flush","spacing":30,"resolve":{"scale":{"color":"independent"},"legend":{"color":"independent"}},"hconcat":[
{"width":143,"height":90,"title":"NAmo",
"encoding":{"x":{"field":"x","type":"quantitative","scale":{"domain":[0,72],"nice":false},"axis":{"values":[0,20,40,60],"labels":true,"titleX":153,"titleY":27,"titleFontSize":8.5,"titleAlign":"center","titleBaseline":"middle","titleColor":"#111111"},"title":"pentad count"},
"y":{"field":"y","type":"quantitative","scale":{"domain":[0,1]},"axis":{"values":[0,0.25,0.5,0.75,1],"format":".2f","labels":true},"title":null},
"color":{"field":"s","type":"nominal","scale":{"domain":["o","m","y1","y2","y3","y4","y5","y6"],"range":["#000000","#ff0000","rgba(255,0,0,0.35)","rgba(255,0,0,0.35)","rgba(255,0,0,0.35)","rgba(255,0,0,0.35)","rgba(255,0,0,0.35)","rgba(255,0,0,0.35)"]},"legend":null}},
"layer":[
{"data":{"name":"c"},"transform":[{"filter":"datum.p==='a'&&datum.r==='NAmo'"},{"fold":["y1","y2","y3","y4","y5","y6"],"as":["s","y"]}],"mark":{"type":"line","strokeWidth":0.9}},
{"data":{"name":"c"},"transform":[{"filter":"datum.p==='a'&&datum.r==='NAmo'"},{"fold":["m"],"as":["s","y"]}],"mark":{"type":"line","strokeWidth":1.6}},
{"data":{"name":"c"},"transform":[{"filter":"datum.p==='a'&&datum.r==='NAmo'"},{"fold":["o"],"as":["s","y"]}],"mark":{"type":"line","strokeWidth":1.6}},
{"data":{"name":"d"},"transform":[{"filter":"datum.p==='a'&&datum.r==='NAmo'"}],"mark":{"type":"rule","strokeDash":[4,2.5],"strokeWidth":1.3},"encoding":{"y2":{"datum":0}}}]},
{"width":143,"height":90,"title":"SAmo",
"encoding":{"x":{"field":"x","type":"quantitative","scale":{"domain":[0,72],"nice":false},"axis":{"values":[0,20,40,60],"labels":true},"title":null},
"y":{"field":"y","type":"quantitative","scale":{"domain":[0,1]},"axis":{"values":[0,0.25,0.5,0.75,1],"format":".2f","labels":false},"title":null},
"color":{"field":"s","type":"nominal","scale":{"domain":["o","m","y1","y2","y3","y4","y5","y6"],"range":["#000000","#ff0000","rgba(255,0,0,0.35)","rgba(255,0,0,0.35)","rgba(255,0,0,0.35)","rgba(255,0,0,0.35)","rgba(255,0,0,0.35)","rgba(255,0,0,0.35)"]},"legend":null}},
"layer":[
{"data":{"name":"c"},"transform":[{"filter":"datum.p==='a'&&datum.r==='SAmo'"},{"fold":["y1","y2","y3","y4","y5","y6"],"as":["s","y"]}],"mark":{"type":"line","strokeWidth":0.9}},
{"data":{"name":"c"},"transform":[{"filter":"datum.p==='a'&&datum.r==='SAmo'"},{"fold":["m"],"as":["s","y"]}],"mark":{"type":"line","strokeWidth":1.6}},
{"data":{"name":"c"},"transform":[{"filter":"datum.p==='a'&&datum.r==='SAmo'"},{"fold":["o"],"as":["s","y"]}],"mark":{"type":"line","strokeWidth":1.6}},
{"data":{"name":"d"},"transform":[{"filter":"datum.p==='a'&&datum.r==='SAmo'"}],"mark":{"type":"rule","strokeDash":[4,2.5],"strokeWidth":1.3},"encoding":{"y2":{"datum":0}}}]}
]}
]}
]},
{"title":{"text":"(b) NeuralGCM-precip","subtitle":["Precipitation pentad time series","Monsoon domain composite accumulations","CMIP6, NeuralGCM-precip, amip, r100i1p1, 1980-2005"],"anchor":"middle","frame":"bounds","dx":5,"font":"Liberation Sans","fontSize":14,"fontWeight":"bold","color":"#000000","subtitleFont":"DejaVu Sans","subtitleFontSize":9.8,"subtitleColor":"#111111","subtitleLineHeight":11.3,"subtitlePadding":20.5,"offset":6.5},
"spacing":5,
"resolve":{"scale":{"color":"independent"},"legend":{"color":"independent"}},
"vconcat":[
{"bounds":"flush","spacing":30,"resolve":{"scale":{"color":"independent"},"legend":{"color":"independent"}},"hconcat":[
{"width":143,"height":90,"title":"AIR",
"encoding":{"x":{"field":"x","type":"quantitative","scale":{"domain":[0,72],"nice":false},"axis":{"values":[0,20,40,60],"labels":false},"title":null},
"y":{"field":"y","type":"quantitative","scale":{"domain":[0,1]},"axis":{"values":[0,0.25,0.5,0.75,1],"format":".2f","labels":true},"title":null},
"color":{"field":"s","type":"nominal","scale":{"domain":["o","m","y1","y2","y3","y4","y5","y6"],"range":["#000000","#ff0000","rgba(255,0,0,0.35)","rgba(255,0,0,0.35)","rgba(255,0,0,0.35)","rgba(255,0,0,0.35)","rgba(255,0,0,0.35)","rgba(255,0,0,0.35)"]},
"legend":{"orient":"top-left","offset":4,"title":null,"values":["o","m","y1"],"labelExpr":"datum.value==='o'?'GPCP-IP':datum.value==='m'?'NeuralGCM-precip':'Individual yr'","symbolType":"M-1,0H2.4","symbolSize":100,"symbolStrokeWidth":1.5,"labelOffset":12,"rowPadding":3,"padding":4,"fillColor":"rgba(255,255,255,0.8)","strokeColor":"#cccccc","cornerRadius":3,"labelFont":"DejaVu Sans","labelFontSize":8.3,"labelColor":"#222222"}}},
"layer":[
{"data":{"name":"c"},"transform":[{"filter":"datum.p==='b'&&datum.r==='AIR'"},{"fold":["y1","y2","y3","y4","y5","y6"],"as":["s","y"]}],"mark":{"type":"line","strokeWidth":0.9}},
{"data":{"name":"c"},"transform":[{"filter":"datum.p==='b'&&datum.r==='AIR'"},{"fold":["m"],"as":["s","y"]}],"mark":{"type":"line","strokeWidth":1.6}},
{"data":{"name":"c"},"transform":[{"filter":"datum.p==='b'&&datum.r==='AIR'"},{"fold":["o"],"as":["s","y"]}],"mark":{"type":"line","strokeWidth":1.6}},
{"data":{"name":"d"},"transform":[{"filter":"datum.p==='b'&&datum.r==='AIR'"}],"mark":{"type":"rule","strokeDash":[4,2.5],"strokeWidth":1.3},"encoding":{"y2":{"datum":0}}}]},
{"width":143,"height":90,"title":"AUS",
"encoding":{"x":{"field":"x","type":"quantitative","scale":{"domain":[0,72],"nice":false},"axis":{"values":[0,20,40,60],"labels":false},"title":null},
"y":{"field":"y","type":"quantitative","scale":{"domain":[0,1]},"axis":{"values":[0,0.25,0.5,0.75,1],"format":".2f","labels":false},"title":null},
"color":{"field":"s","type":"nominal","scale":{"domain":["o","m","y1","y2","y3","y4","y5","y6"],"range":["#000000","#ff0000","rgba(255,0,0,0.35)","rgba(255,0,0,0.35)","rgba(255,0,0,0.35)","rgba(255,0,0,0.35)","rgba(255,0,0,0.35)","rgba(255,0,0,0.35)"]},"legend":null}},
"layer":[
{"data":{"name":"c"},"transform":[{"filter":"datum.p==='b'&&datum.r==='AUS'"},{"fold":["y1","y2","y3","y4","y5","y6"],"as":["s","y"]}],"mark":{"type":"line","strokeWidth":0.9}},
{"data":{"name":"c"},"transform":[{"filter":"datum.p==='b'&&datum.r==='AUS'"},{"fold":["m"],"as":["s","y"]}],"mark":{"type":"line","strokeWidth":1.6}},
{"data":{"name":"c"},"transform":[{"filter":"datum.p==='b'&&datum.r==='AUS'"},{"fold":["o"],"as":["s","y"]}],"mark":{"type":"line","strokeWidth":1.6}},
{"data":{"name":"d"},"transform":[{"filter":"datum.p==='b'&&datum.r==='AUS'"}],"mark":{"type":"rule","strokeDash":[4,2.5],"strokeWidth":1.3},"encoding":{"y2":{"datum":0}}}]}
]},
{"bounds":"flush","spacing":30,"resolve":{"scale":{"color":"independent"},"legend":{"color":"independent"}},"hconcat":[
{"width":143,"height":90,"title":"Sahel",
"encoding":{"x":{"field":"x","type":"quantitative","scale":{"domain":[0,72],"nice":false},"axis":{"values":[0,20,40,60],"labels":false},"title":null},
"y":{"field":"y","type":"quantitative","scale":{"domain":[0,1]},"axis":{"values":[0,0.25,0.5,0.75,1],"format":".2f","labels":true},"title":null},
"color":{"field":"s","type":"nominal","scale":{"domain":["o","m","y1","y2","y3","y4","y5","y6"],"range":["#000000","#ff0000","rgba(255,0,0,0.35)","rgba(255,0,0,0.35)","rgba(255,0,0,0.35)","rgba(255,0,0,0.35)","rgba(255,0,0,0.35)","rgba(255,0,0,0.35)"]},"legend":null}},
"layer":[
{"data":{"name":"c"},"transform":[{"filter":"datum.p==='b'&&datum.r==='Sahel'"},{"fold":["y1","y2","y3","y4","y5","y6"],"as":["s","y"]}],"mark":{"type":"line","strokeWidth":0.9}},
{"data":{"name":"c"},"transform":[{"filter":"datum.p==='b'&&datum.r==='Sahel'"},{"fold":["m"],"as":["s","y"]}],"mark":{"type":"line","strokeWidth":1.6}},
{"data":{"name":"c"},"transform":[{"filter":"datum.p==='b'&&datum.r==='Sahel'"},{"fold":["o"],"as":["s","y"]}],"mark":{"type":"line","strokeWidth":1.6}},
{"data":{"name":"d"},"transform":[{"filter":"datum.p==='b'&&datum.r==='Sahel'"}],"mark":{"type":"rule","strokeDash":[4,2.5],"strokeWidth":1.3},"encoding":{"y2":{"datum":0}}}]},
{"width":143,"height":90,"title":"GoG",
"encoding":{"x":{"field":"x","type":"quantitative","scale":{"domain":[0,72],"nice":false},"axis":{"values":[0,20,40,60],"labels":false},"title":null},
"y":{"field":"y","type":"quantitative","scale":{"domain":[0,1]},"axis":{"values":[0,0.25,0.5,0.75,1],"format":".2f","labels":false},"title":null},
"color":{"field":"s","type":"nominal","scale":{"domain":["o","m","y1","y2","y3","y4","y5","y6"],"range":["#000000","#ff0000","rgba(255,0,0,0.35)","rgba(255,0,0,0.35)","rgba(255,0,0,0.35)","rgba(255,0,0,0.35)","rgba(255,0,0,0.35)","rgba(255,0,0,0.35)"]},"legend":null}},
"layer":[
{"data":{"name":"c"},"transform":[{"filter":"datum.p==='b'&&datum.r==='GoG'"},{"fold":["y1","y2","y3","y4","y5","y6"],"as":["s","y"]}],"mark":{"type":"line","strokeWidth":0.9}},
{"data":{"name":"c"},"transform":[{"filter":"datum.p==='b'&&datum.r==='GoG'"},{"fold":["m"],"as":["s","y"]}],"mark":{"type":"line","strokeWidth":1.6}},
{"data":{"name":"c"},"transform":[{"filter":"datum.p==='b'&&datum.r==='GoG'"},{"fold":["o"],"as":["s","y"]}],"mark":{"type":"line","strokeWidth":1.6}},
{"data":{"name":"d"},"transform":[{"filter":"datum.p==='b'&&datum.r==='GoG'"}],"mark":{"type":"rule","strokeDash":[4,2.5],"strokeWidth":1.3},"encoding":{"y2":{"datum":0}}}]}
]},
{"bounds":"flush","spacing":30,"resolve":{"scale":{"color":"independent"},"legend":{"color":"independent"}},"hconcat":[
{"width":143,"height":90,"title":"NAmo",
"encoding":{"x":{"field":"x","type":"quantitative","scale":{"domain":[0,72],"nice":false},"axis":{"values":[0,20,40,60],"labels":true,"titleX":156,"titleY":27,"titleFontSize":8.5,"titleAlign":"center","titleBaseline":"middle","titleColor":"#111111"},"title":"pentad count"},
"y":{"field":"y","type":"quantitative","scale":{"domain":[0,1]},"axis":{"values":[0,0.25,0.5,0.75,1],"format":".2f","labels":true},"title":null},
"color":{"field":"s","type":"nominal","scale":{"domain":["o","m","y1","y2","y3","y4","y5","y6"],"range":["#000000","#ff0000","rgba(255,0,0,0.35)","rgba(255,0,0,0.35)","rgba(255,0,0,0.35)","rgba(255,0,0,0.35)","rgba(255,0,0,0.35)","rgba(255,0,0,0.35)"]},"legend":null}},
"layer":[
{"data":{"name":"c"},"transform":[{"filter":"datum.p==='b'&&datum.r==='NAmo'"},{"fold":["y1","y2","y3","y4","y5","y6"],"as":["s","y"]}],"mark":{"type":"line","strokeWidth":0.9}},
{"data":{"name":"c"},"transform":[{"filter":"datum.p==='b'&&datum.r==='NAmo'"},{"fold":["m"],"as":["s","y"]}],"mark":{"type":"line","strokeWidth":1.6}},
{"data":{"name":"c"},"transform":[{"filter":"datum.p==='b'&&datum.r==='NAmo'"},{"fold":["o"],"as":["s","y"]}],"mark":{"type":"line","strokeWidth":1.6}},
{"data":{"name":"d"},"transform":[{"filter":"datum.p==='b'&&datum.r==='NAmo'"}],"mark":{"type":"rule","strokeDash":[4,2.5],"strokeWidth":1.3},"encoding":{"y2":{"datum":0}}}]},
{"width":143,"height":90,"title":"SAmo",
"encoding":{"x":{"field":"x","type":"quantitative","scale":{"domain":[0,72],"nice":false},"axis":{"values":[0,20,40,60],"labels":true},"title":null},
"y":{"field":"y","type":"quantitative","scale":{"domain":[0,1]},"axis":{"values":[0,0.25,0.5,0.75,1],"format":".2f","labels":false},"title":null},
"color":{"field":"s","type":"nominal","scale":{"domain":["o","m","y1","y2","y3","y4","y5","y6"],"range":["#000000","#ff0000","rgba(255,0,0,0.35)","rgba(255,0,0,0.35)","rgba(255,0,0,0.35)","rgba(255,0,0,0.35)","rgba(255,0,0,0.35)","rgba(255,0,0,0.35)"]},"legend":null}},
"layer":[
{"data":{"name":"c"},"transform":[{"filter":"datum.p==='b'&&datum.r==='SAmo'"},{"fold":["y1","y2","y3","y4","y5","y6"],"as":["s","y"]}],"mark":{"type":"line","strokeWidth":0.9}},
{"data":{"name":"c"},"transform":[{"filter":"datum.p==='b'&&datum.r==='SAmo'"},{"fold":["m"],"as":["s","y"]}],"mark":{"type":"line","strokeWidth":1.6}},
{"data":{"name":"c"},"transform":[{"filter":"datum.p==='b'&&datum.r==='SAmo'"},{"fold":["o"],"as":["s","y"]}],"mark":{"type":"line","strokeWidth":1.6}},
{"data":{"name":"d"},"transform":[{"filter":"datum.p==='b'&&datum.r==='SAmo'"}],"mark":{"type":"rule","strokeDash":[4,2.5],"strokeWidth":1.3},"encoding":{"y2":{"datum":0}}}]}
]}
]}
]
}
